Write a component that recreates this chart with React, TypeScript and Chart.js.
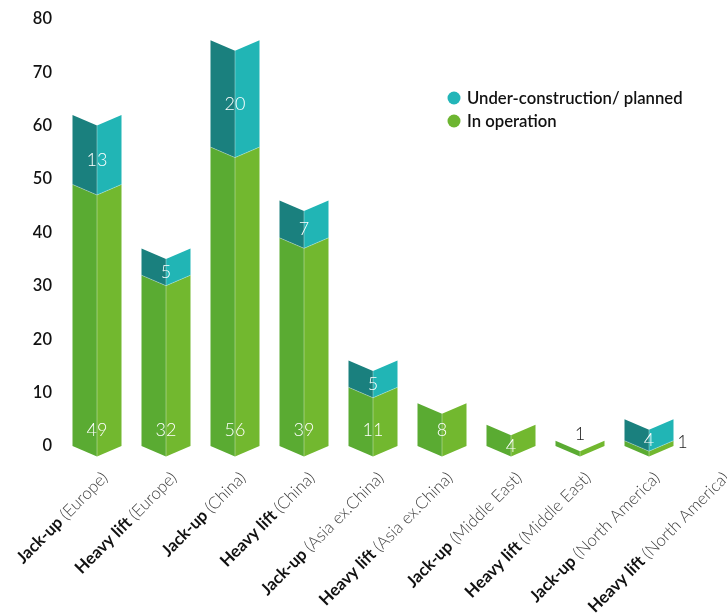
import { useEffect, useRef } from "react";
import { Chart, registerables } from "chart.js";

Chart.register(...registerables);

// ---- data ----
const vesselTypes = ["Jack-up", "Heavy lift", "Jack-up", "Heavy lift", "Jack-up", "Heavy lift", "Jack-up", "Heavy lift", "Jack-up", "Heavy lift"];
const regions = ["(Europe)", "(Europe)", "(China)", "(China)", "(Asia ex.China)", "(Asia ex.China)", "(Middle East)", "(Middle East)", "(North America)", "(North America)"];
const inOperation = [49, 32, 56, 39, 11, 8, 4, 1, 1, 0];
const underConstruction = [13, 5, 20, 7, 5, 0, 0, 0, 4, 0];
const yMin = 0;
const yMax = 80;
const yStep = 10;

const seriesNames = ["In operation", "Under-construction/ planned"];
const legendColors = ["#6DB531", "#22B5B8"];
const faceColors = [
  ["#5AAB32", "#72B82F"],
  ["#1A807E", "#21B5B5"],
];

const FONT = "Lato, 'Open Sans', sans-serif";

const chevronPlugin = {
  id: "chevronBars",
  beforeDatasetsDraw() {
    return false;
  },
  afterDraw(chart: any) {
    const ctx = chart.ctx as CanvasRenderingContext2D;
    const yScale = chart.scales.y;
    const xScale = chart.scales.x;
    const d = 10.5;
    const zeroPx = yScale.getPixelForValue(0);

    ctx.save();
    // bars
    chart.data.datasets.forEach((ds: any, di: number) => {
      const meta = chart.getDatasetMeta(di);
      meta.data.forEach((el: any, i: number) => {
        const v = ds.data[i];
        if (!v) return;
        const x = el.x;
        const h = el.width / 2;
        const yt = el.y;
        const yb = el.base;
        ctx.fillStyle = faceColors[di][0];
        ctx.beginPath();
        ctx.moveTo(x - h, yt);
        ctx.lineTo(x, yt + d);
        ctx.lineTo(x, yb + d);
        ctx.lineTo(x - h, yb);
        ctx.closePath();
        ctx.fill();
        ctx.fillStyle = faceColors[di][1];
        ctx.beginPath();
        ctx.moveTo(x, yt + d);
        ctx.lineTo(x + h, yt);
        ctx.lineTo(x + h, yb);
        ctx.lineTo(x, yb + d);
        ctx.closePath();
        ctx.fill();
        ctx.strokeStyle = "rgba(255,255,255,0.35)";
        ctx.lineWidth = 1;
        ctx.beginPath();
        ctx.moveTo(x, yt + d);
        ctx.lineTo(x, yb + d);
        ctx.stroke();
        if (di > 0) {
          ctx.strokeStyle = "rgba(255,255,255,0.3)";
          ctx.beginPath();
          ctx.moveTo(x - h, yb);
          ctx.lineTo(x, yb + d);
          ctx.lineTo(x + h, yb);
          ctx.stroke();
        }
      });
    });

    // value labels
    ctx.font = `300 18px ${FONT}`;
    ctx.textAlign = "center";
    ctx.textBaseline = "middle";
    chart.data.datasets.forEach((ds: any, di: number) => {
      const meta = chart.getDatasetMeta(di);
      meta.data.forEach((el: any, i: number) => {
        const v = ds.data[i];
        if (!v) return;
        const x = el.x;
        const h = el.width / 2;
        const yt = el.y;
        const yb = el.base;
        let lx = x;
        let ly = (yt + yb) / 2 + d;
        let color = "#ffffff";
        if (di === 0) {
          const hasAbove = (chart.data.datasets[1].data[i] || 0) > 0;
          if (v >= 5) {
            ly = zeroPx - 16;
          } else if (v <= 1) {
            color = "#222222";
            if (hasAbove) {
              lx = x + h + 9;
              ly = (yt + yb) / 2 - 1;
            } else {
              ly = yt - 6;
            }
          }
        }
        ctx.fillStyle = color;
        ctx.fillText(String(v), lx, ly);
      });
    });

    // x category labels (bold type + light region), rotated 45°
    vesselTypes.forEach((type: string, i: number) => {
      const x = xScale.getPixelForValue(i) + 8;
      const y = zeroPx + 29;
      ctx.save();
      ctx.translate(x, y);
      ctx.rotate(-Math.PI / 4);
      ctx.textAlign = "right";
      ctx.textBaseline = "middle";
      ctx.font = `300 16.8px ${FONT}`;
      const region = regions[i];
      const rw = ctx.measureText(region).width;
      ctx.fillStyle = "#444444";
      ctx.fillText(region, 0, 0);
      ctx.font = `700 16.8px ${FONT}`;
      ctx.fillStyle = "#111111";
      ctx.fillText(type + " ", -rw, 0);
      ctx.restore();
    });

    // legend
    const order = [1, 0];
    order.forEach((di, k) => {
      const cy = 98 + k * 23;
      ctx.fillStyle = legendColors[di];
      ctx.beginPath();
      ctx.arc(454, cy, 6.5, 0, Math.PI * 2);
      ctx.fill();
      ctx.fillStyle = "#111111";
      ctx.font = `600 16.7px ${FONT}`;
      ctx.textAlign = "left";
      ctx.textBaseline = "middle";
      ctx.fillText(chart.data.datasets[di].label, 467, cy + 1);
    });
    ctx.restore();
  },
};

export default function App() {
  const ref = useRef<HTMLCanvasElement | null>(null);
  useEffect(() => {
    if (!ref.current) return;
    const chart = new Chart(ref.current, {
      type: "bar",
      data: {
        labels: vesselTypes.map((t, i) => `${t} ${regions[i]}`),
        datasets: [
          { label: seriesNames[0], data: inOperation, backgroundColor: legendColors[0], barThickness: 49 },
          { label: seriesNames[1], data: underConstruction, backgroundColor: legendColors[1], barThickness: 49 },
        ],
      },
      options: {
        animation: false,
        responsive: true,
        maintainAspectRatio: false,
        layout: { padding: { left: 0, right: 9, top: 19, bottom: 170 } },
        plugins: { legend: { display: false }, tooltip: { enabled: false } },
        scales: {
          x: {
            stacked: true,
            offset: false,
            display: false,
            grid: { display: false },
          },
          y: {
            stacked: true,
            min: yMin,
            max: yMax,
            grid: { display: false, drawTicks: false },
            border: { display: false },
            ticks: {
              stepSize: yStep,
              padding: 45,
              color: "#111111",
              font: { family: FONT, size: 16.5, weight: 600 as any },
            },
            afterFit: (scale: any) => {
              scale.width = 97;
              scale.paddingTop = 0;
              scale.paddingBottom = 0;
            },
          },
        },
      },
      plugins: [chevronPlugin],
    });
    return () => chart.destroy();
  }, []);
  return (
    <div style={{ position: "fixed", left: 0, top: 0, width: 727, height: 616, background: "#fff" }}>
      <canvas ref={ref} />
    </div>
  );
}
